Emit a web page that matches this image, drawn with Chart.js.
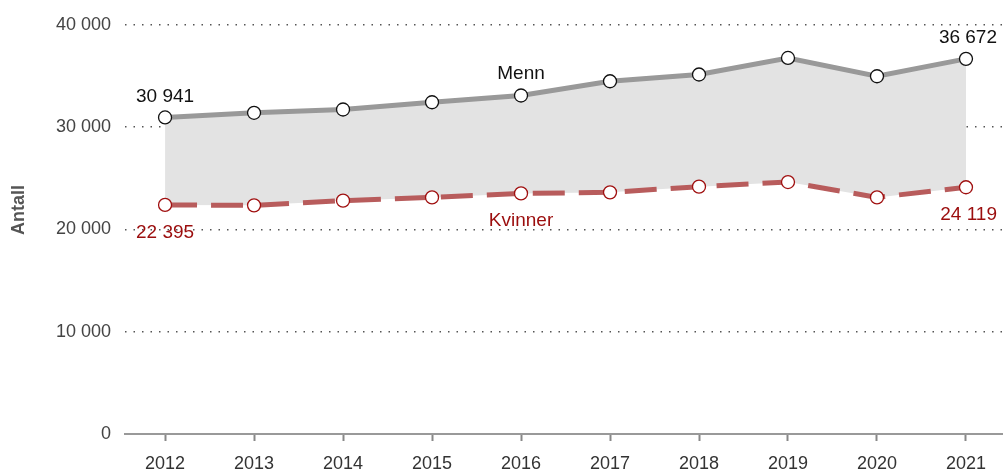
<!DOCTYPE html>
<html>
<head>
<meta charset="utf-8">
<script src="https://cdn.jsdelivr.net/npm/chart.js@4.4.1/dist/chart.umd.min.js"></script>
<style>
  html, body { margin: 0; padding: 0; background: #fff; }
  #wrap { width: 1003px; height: 472px; position: relative; }
</style>
</head>
<body>
<div id="wrap"><canvas id="myChart"></canvas></div>
<script>
var years = [2012, 2013, 2014, 2015, 2016, 2017, 2018, 2019, 2020, 2021];
var menn = [30941, 31400, 31720, 32430, 33090, 34480, 35140, 36760, 34970, 36672];
var kvinner = [22395, 22350, 22810, 23130, 23520, 23620, 24180, 24630, 23130, 24119];
var yTicks = [0, 10000, 20000, 30000, 40000];

function fmt(v) {
    return String(v).replace(/\B(?=(\d{3})+(?!\d))/g, ' ');
}

function toPoints(arr) {
    return years.map(function(y, i) { return { x: y, y: arr[i] }; });
}

// labels on selected points: value at first/last, series name at 2016
var labelPlugin = {
    id: 'pointLabels',
    afterDatasetsDraw: function(chart) {
        var ctx = chart.ctx;
        var xs = chart.scales.x, ys = chart.scales.y;
        ctx.save();
        ctx.font = '19px Arial, "Liberation Sans", sans-serif';
        ctx.textAlign = 'center';
        ctx.textBaseline = 'alphabetic';
        var last = years.length - 1;
        var nameIdx = years.indexOf(2016);

        ctx.fillStyle = '#111';
        ctx.fillText(fmt(menn[0]), xs.getPixelForValue(years[0]), ys.getPixelForValue(menn[0]) - 15);
        ctx.fillText('Menn', xs.getPixelForValue(years[nameIdx]), ys.getPixelForValue(menn[nameIdx]) - 16);
        ctx.textAlign = 'right';
        ctx.fillText(fmt(menn[last]), 997, ys.getPixelForValue(menn[last]) - 16);

        ctx.fillStyle = '#9b0d0d';
        ctx.textAlign = 'center';
        ctx.fillText(fmt(kvinner[0]), xs.getPixelForValue(years[0]), ys.getPixelForValue(kvinner[0]) + 33);
        ctx.fillText('Kvinner', xs.getPixelForValue(years[nameIdx]), ys.getPixelForValue(kvinner[nameIdx]) + 33);
        ctx.textAlign = 'right';
        ctx.fillText(fmt(kvinner[last]), 997, ys.getPixelForValue(kvinner[last]) + 33);

        // y axis title
        ctx.fillStyle = '#555';
        ctx.font = 'bold 18px Arial, "Liberation Sans", sans-serif';
        ctx.translate(19, 210);
        ctx.rotate(-Math.PI / 2);
        ctx.textAlign = 'center';
        ctx.textBaseline = 'middle';
        ctx.fillText('Antall', 0, 0);
        ctx.restore();
    }
};

var ctx = document.getElementById('myChart').getContext('2d');
var myChart = new Chart(ctx, {
    type: 'line',
    data: {
        datasets: [{
                label: 'Menn',
                data: toPoints(menn),
                order: 1,
                borderColor: '#999999',
                borderWidth: 5,
                backgroundColor: '#e3e3e3',
                fill: '+1',
                pointRadius: 6.5,
                pointBackgroundColor: '#fff',
                pointBorderColor: '#111',
                pointBorderWidth: 1.3,
                tension: 0
            },
            {
                label: 'Kvinner',
                data: toPoints(kvinner),
                order: 0,
                borderColor: '#b85c5c',
                borderWidth: 5,
                borderDash: [32, 14],
                fill: false,
                pointRadius: 6.5,
                pointBackgroundColor: '#fff',
                pointBorderColor: '#a01010',
                pointBorderWidth: 1.3,
                tension: 0
            }
        ]
    },
    options: {
        responsive: true,
        maintainAspectRatio: false,
        animation: false,
        layout: {
            autoPadding: false,
            padding: { top: 24, right: 0, bottom: 0, left: 0 }
        },
        scales: {
            x: {
                type: 'linear',
                min: 2011.55,
                max: 2021.416,
                afterFit: function(scale) {
                    scale.height = 38;
                    scale.paddingLeft = 0;
                    scale.paddingRight = 0;
                },
                grid: {
                    drawOnChartArea: false,
                    drawTicks: true,
                    tickLength: 7,
                    tickWidth: 2,
                    tickColor: '#888'
                },
                border: { display: true, color: '#999', width: 2 },
                ticks: {
                    stepSize: 1,
                    includeBounds: false,
                    padding: 12,
                    color: '#333',
                    font: { family: 'Arial, "Liberation Sans", sans-serif', size: 18 },
                    callback: function(v) { return String(v); }
                }
            },
            y: {
                min: 0,
                max: 40000,
                afterFit: function(scale) { scale.width = 125; },
                grid: {
                    drawTicks: false,
                    color: '#555',
                    lineWidth: 1.4
                },
                border: { display: false, dash: [1.5, 7] },
                afterBuildTicks: function(scale) {
                    scale.ticks = yTicks.map(function(v) { return { value: v }; });
                },
                ticks: {
                    padding: 14,
                    color: '#444',
                    font: { family: 'Arial, "Liberation Sans", sans-serif', size: 18 },
                    callback: function(v) { return fmt(v); }
                }
            }
        },
        plugins: {
            legend: { display: false },
            tooltip: { enabled: false }
        }
    },
    plugins: [labelPlugin]
});
</script>
</body>
</html>
